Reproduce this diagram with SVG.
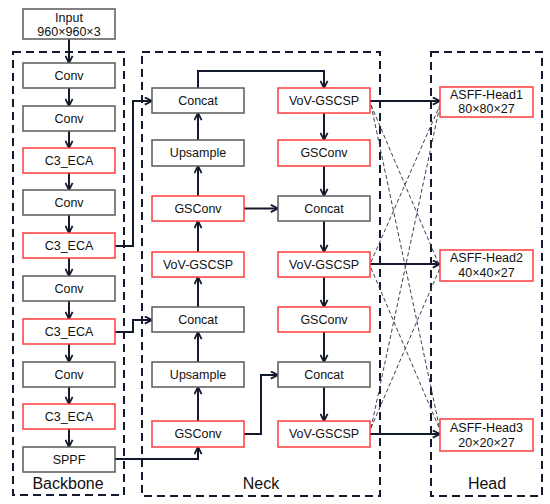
<svg xmlns="http://www.w3.org/2000/svg" width="550" height="504" viewBox="0 0 550 504">
<defs>
<marker id="arr" viewBox="0 0 10 10" refX="9" refY="5" markerWidth="9" markerHeight="9" markerUnits="userSpaceOnUse" orient="auto">
<path d="M1,1 L9,5 L1,9" fill="none" stroke="#141a2e" stroke-width="2"/>
</marker>
</defs>
<style>
.g rect{fill:#fff;stroke:#5a5a5a;stroke-width:1.5}
.r rect{fill:#fff;stroke:#ff3b3b;stroke-width:1.5}
text{font-family:"Liberation Sans",Arial,sans-serif;font-size:12.5px;fill:#111;text-anchor:middle}
.lbl{font-size:16px}
.frame{fill:none;stroke:#141a2e;stroke-width:2;stroke-dasharray:8 5}
.c path{fill:none;stroke:#141a2e;stroke-width:2;marker-end:url(#arr)}
.d path{fill:none;stroke:#3a3f4e;stroke-width:1;stroke-dasharray:4 2.5}
</style>
<g id="frames">
<rect class="frame" x="13" y="52" width="111" height="443"/>
<rect class="frame" x="142" y="52" width="238" height="444"/>
<rect class="frame" x="431" y="52" width="111" height="444"/>
<text class="lbl" x="68" y="489">Backbone</text>
<text class="lbl" x="261" y="489">Neck</text>
<text class="lbl" x="487" y="489">Head</text>
</g>
<g id="connectors">
<g class="c">
<path d="M69,39 V63"/>
<path d="M69,88 V106"/>
<path d="M69,131 V148"/>
<path d="M69,173 V190"/>
<path d="M69,215 V233"/>
<path d="M69,258 V276"/>
<path d="M69,301 V319"/>
<path d="M69,344 V362"/>
<path d="M69,387 V404"/>
<path d="M69,429 V447"/>
<path d="M115,246 H133 V101 H152"/>
<path d="M115,332 H133 V320 H152"/>
<path d="M115,459 H198 V447"/>
<path d="M198,421 V387"/>
<path d="M198,362 V332"/>
<path d="M198,307 V277"/>
<path d="M198,252 V221"/>
<path d="M198,196 V166"/>
<path d="M198,140 V113"/>
<path d="M198,88 V71 H324 V88"/>
<path d="M324,113 V140"/>
<path d="M324,166 V196"/>
<path d="M324,221 V252"/>
<path d="M324,277 V307"/>
<path d="M324,332 V362"/>
<path d="M324,387 V421"/>
<path d="M244,208.5 H278"/>
<path d="M244,434 H261 V375 H278"/>
<path d="M370,101 H440"/>
<path d="M370,264 H440"/>
<path d="M370,434 H440"/>
</g>
<g class="d">
<path d="M371,105 L440,267"/>
<path d="M371,105 L440,430"/>
<path d="M371,262 L440,105"/>
<path d="M371,268 L440,430"/>
<path d="M371,428 L440,105"/>
<path d="M371,428 L440,268"/>
</g>
</g>
<g id="input" class="g"><rect x="23" y="9" width="92" height="30"/><text x="69" y="22">Input</text><text x="69" y="36">960×960×3</text></g>
<g id="conv1" class="g"><rect x="23" y="63" width="92" height="25"/><text x="69" y="80">Conv</text></g>
<g id="conv2" class="g"><rect x="23" y="106" width="92" height="25"/><text x="69" y="123">Conv</text></g>
<g id="c3eca1" class="r"><rect x="23" y="148" width="92" height="25"/><text x="69" y="165">C3_ECA</text></g>
<g id="conv3" class="g"><rect x="23" y="190" width="92" height="25"/><text x="69" y="207">Conv</text></g>
<g id="c3eca2" class="r"><rect x="23" y="233" width="92" height="25"/><text x="69" y="250">C3_ECA</text></g>
<g id="conv4" class="g"><rect x="23" y="276" width="92" height="25"/><text x="69" y="293">Conv</text></g>
<g id="c3eca3" class="r"><rect x="23" y="319" width="92" height="25"/><text x="69" y="336">C3_ECA</text></g>
<g id="conv5" class="g"><rect x="23" y="362" width="92" height="25"/><text x="69" y="379">Conv</text></g>
<g id="c3eca4" class="r"><rect x="23" y="404" width="92" height="25"/><text x="69" y="421">C3_ECA</text></g>
<g id="sppf" class="g"><rect x="23" y="447" width="92" height="25"/><text x="69" y="464">SPPF</text></g>
<g id="concat1" class="g"><rect x="152" y="88" width="92" height="25"/><text x="198" y="105">Concat</text></g>
<g id="upsample1" class="g"><rect x="152" y="140" width="92" height="26"/><text x="198" y="157">Upsample</text></g>
<g id="gsconv1" class="r"><rect x="152" y="196" width="92" height="25"/><text x="198" y="213">GSConv</text></g>
<g id="vov1" class="r"><rect x="152" y="252" width="92" height="25"/><text x="198" y="269">VoV-GSCSP</text></g>
<g id="concat2" class="g"><rect x="152" y="307" width="92" height="25"/><text x="198" y="324">Concat</text></g>
<g id="upsample2" class="g"><rect x="152" y="362" width="92" height="25"/><text x="198" y="379">Upsample</text></g>
<g id="gsconv2" class="r"><rect x="152" y="421" width="92" height="26"/><text x="198" y="438">GSConv</text></g>
<g id="vov2" class="r"><rect x="278" y="88" width="92" height="25"/><text x="324" y="105">VoV-GSCSP</text></g>
<g id="gsconv3" class="r"><rect x="278" y="140" width="92" height="26"/><text x="324" y="157">GSConv</text></g>
<g id="concat3" class="g"><rect x="278" y="196" width="92" height="25"/><text x="324" y="213">Concat</text></g>
<g id="vov3" class="r"><rect x="278" y="252" width="92" height="25"/><text x="324" y="269">VoV-GSCSP</text></g>
<g id="gsconv4" class="r"><rect x="278" y="307" width="92" height="25"/><text x="324" y="324">GSConv</text></g>
<g id="concat4" class="g"><rect x="278" y="362" width="92" height="25"/><text x="324" y="379">Concat</text></g>
<g id="vov4" class="r"><rect x="278" y="421" width="92" height="26"/><text x="324" y="438">VoV-GSCSP</text></g>
<g id="head1" class="r"><rect x="440" y="87" width="93" height="30"/><text x="486.5" y="99">ASFF-Head1</text><text x="486.5" y="113">80×80×27</text></g>
<g id="head2" class="r"><rect x="440" y="250" width="93" height="31"/><text x="486.5" y="262">ASFF-Head2</text><text x="486.5" y="277">40×40×27</text></g>
<g id="head3" class="r"><rect x="440" y="419" width="93" height="32"/><text x="486.5" y="432">ASFF-Head3</text><text x="486.5" y="447">20×20×27</text></g>
</svg>
